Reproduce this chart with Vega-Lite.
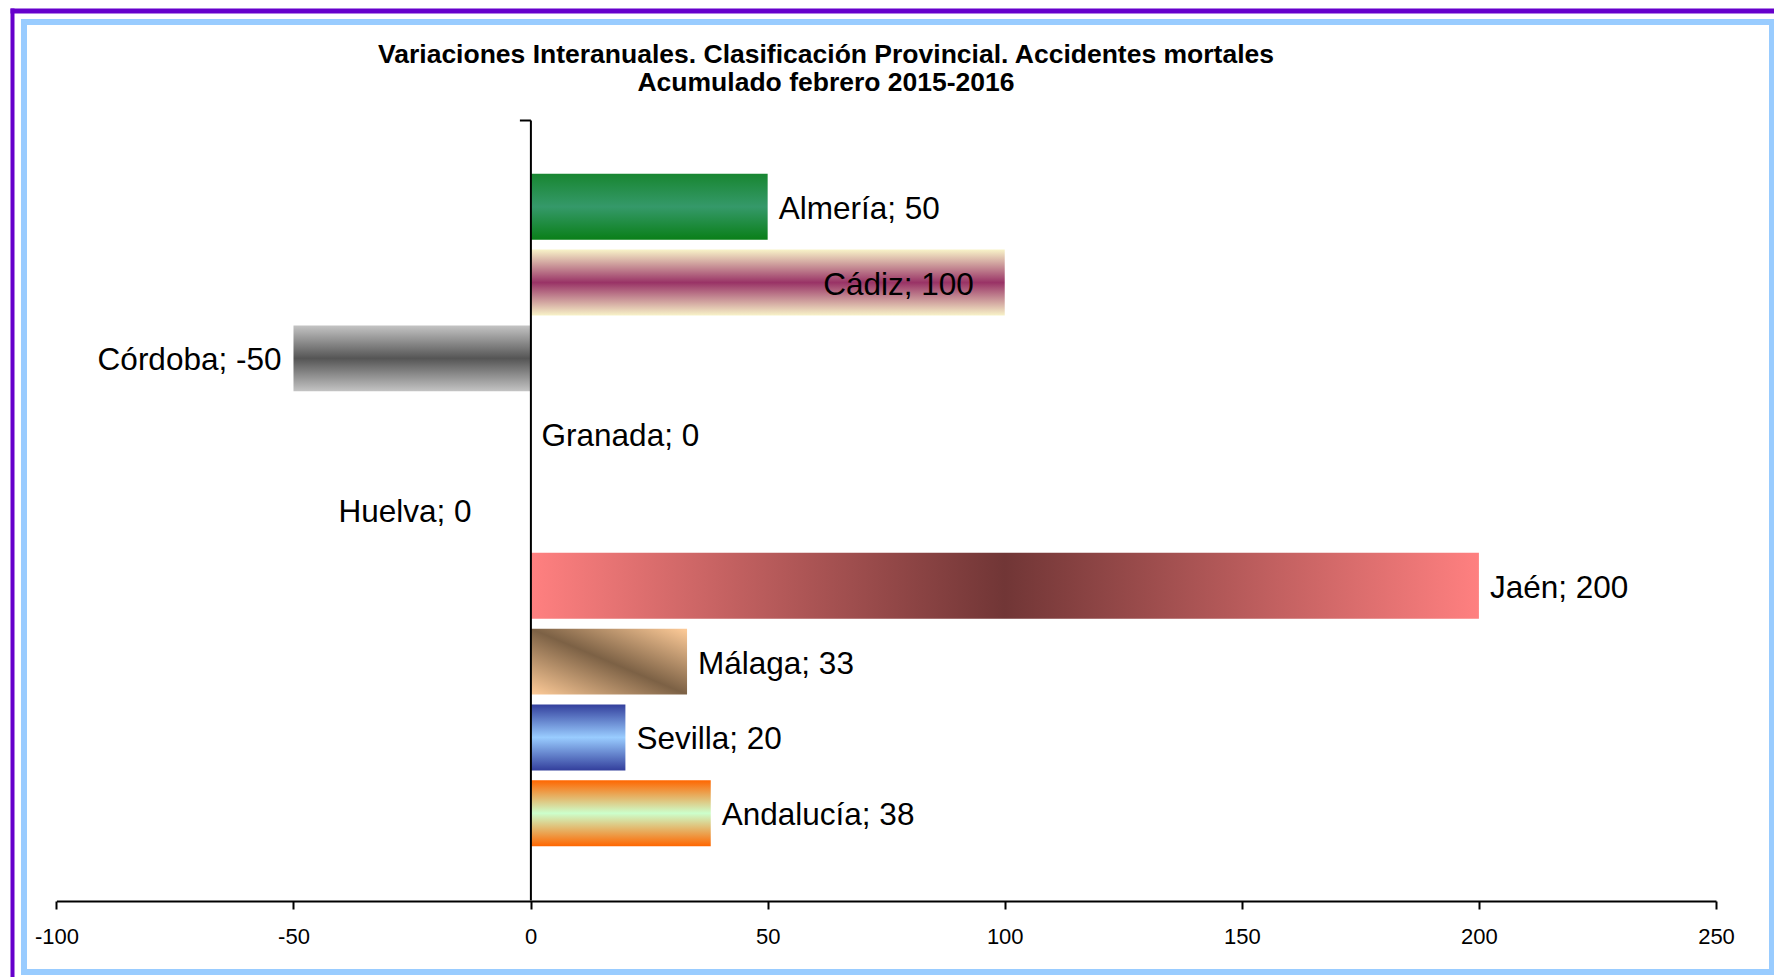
{
  "$schema": "https://vega.github.io/schema/vega-lite/v6.json",
  "width": 1748,
  "height": 950,
  "autosize": {"type": "none"},
  "padding": {"left": 24, "top": 22, "right": 2, "bottom": 5},
  "background": "white",
  "config": {
    "view": {"stroke": "#99CCFF", "strokeWidth": 6, "fill": "white"},
    "font": "Liberation Sans",
    "text": {"font": "Liberation Sans"}
  },
  "title": {
    "text": "Variaciones Interanuales. Clasificación Provincial. Accidentes mortales",
    "subtitle": "Acumulado febrero 2015-2016",
    "anchor": "middle",
    "frame": "group",
    "dx": -72,
    "offset": -86,
    "font": "Liberation Sans",
    "fontSize": 26.5,
    "fontWeight": "bold",
    "color": "black",
    "subtitleFont": "Liberation Sans",
    "subtitleFontSize": 26.5,
    "subtitleFontWeight": "bold",
    "subtitleColor": "black",
    "subtitlePadding": 2
  },
  "data": {
    "values": [
      {"provincia": "Almería", "valor": 50, "etiqueta": "Almería; 50"},
      {"provincia": "Cádiz", "valor": 100, "etiqueta": "Cádiz; 100"},
      {"provincia": "Córdoba", "valor": -50, "etiqueta": "Córdoba; -50"},
      {"provincia": "Granada", "valor": 0, "etiqueta": "Granada; 0"},
      {"provincia": "Huelva", "valor": 0, "etiqueta": "Huelva; 0"},
      {"provincia": "Jaén", "valor": 200, "etiqueta": "Jaén; 200"},
      {"provincia": "Málaga", "valor": 33, "etiqueta": "Málaga; 33"},
      {"provincia": "Sevilla", "valor": 20, "etiqueta": "Sevilla; 20"},
      {"provincia": "Andalucía", "valor": 38, "etiqueta": "Andalucía; 38"}
    ]
  },
  "layer": [
    {
      "encoding": {
        "y": {
          "field": "provincia",
          "type": "nominal",
          "scale": {
            "domain": ["Almería", "Cádiz", "Córdoba", "Granada", "Huelva", "Jaén", "Málaga", "Sevilla", "Andalucía"],
            "range": [98, 878],
            "paddingInner": 0.13,
            "paddingOuter": 0.71
          },
          "axis": {
            "orient": "left",
            "offset": -506.4,
            "domainColor": "black",
            "domainWidth": 2,
            "ticks": false,
            "labels": false,
            "title": null,
            "grid": false,
            "zindex": 2
          }
        },
        "x": {
          "field": "valor",
          "type": "quantitative",
          "scale": {"domain": [-100, 250], "range": [32.4, 1692], "nice": false, "zero": false},
          "axis": {
            "orient": "bottom",
            "offset": -71,
            "values": [-100, -50, 0, 50, 100, 150, 200, 250],
            "labelExpr": "'' + datum.value",
            "domainColor": "black",
            "domainWidth": 2,
            "tickColor": "black",
            "tickWidth": 2,
            "tickSize": 8,
            "labelFont": "Liberation Sans",
            "labelFontSize": 22,
            "labelColor": "black",
            "labelPadding": 17,
            "labelFlush": false,
            "labelOverlap": false,
            "title": null,
            "grid": false,
            "zindex": 2
          }
        }
      },
      "layer": [
        {
          "transform": [{"filter": {"field": "provincia", "equal": "Almería"}}],
          "mark": {"type": "bar", "color": {"gradient": "linear", "x1": 0, "y1": 0, "x2": 0, "y2": 1,
            "stops": [{"offset": 0, "color": "#188631"}, {"offset": 0.5, "color": "#35996A"}, {"offset": 1, "color": "#0A7F18"}]}},
          "encoding": {"x2": {"datum": 0}}
        },
        {
          "transform": [{"filter": {"field": "provincia", "equal": "Cádiz"}}],
          "mark": {"type": "bar", "color": {"gradient": "linear", "x1": 0, "y1": 0, "x2": 0, "y2": 1,
            "stops": [{"offset": 0, "color": "#F8F3C8"}, {"offset": 0.5, "color": "#993366"}, {"offset": 1, "color": "#F8F3C8"}]}},
          "encoding": {"x2": {"datum": 0}}
        },
        {
          "transform": [{"filter": {"field": "provincia", "equal": "Córdoba"}}],
          "mark": {"type": "bar", "color": {"gradient": "linear", "x1": 0, "y1": 0, "x2": 0, "y2": 1,
            "stops": [{"offset": 0, "color": "#C4C4C4"}, {"offset": 0.5, "color": "#555555"}, {"offset": 1, "color": "#C4C4C4"}]}},
          "encoding": {"x2": {"datum": 0}}
        },
        {
          "transform": [{"filter": {"field": "provincia", "equal": "Jaén"}}],
          "mark": {"type": "bar", "color": {"gradient": "linear", "x1": 0, "y1": 0, "x2": 1, "y2": 0,
            "stops": [{"offset": 0, "color": "#FF8080"}, {"offset": 0.5, "color": "#713636"}, {"offset": 1, "color": "#FF8080"}]}},
          "encoding": {"x2": {"datum": 0}}
        },
        {
          "transform": [{"filter": {"field": "provincia", "equal": "Málaga"}}],
          "mark": {"type": "bar", "color": {"gradient": "linear", "x1": 1, "y1": 0, "x2": 0, "y2": 1,
            "stops": [{"offset": 0, "color": "#FFCC99"}, {"offset": 0.5, "color": "#7C6145"}, {"offset": 1, "color": "#FFCC99"}]}},
          "encoding": {"x2": {"datum": 0}}
        },
        {
          "transform": [{"filter": {"field": "provincia", "equal": "Sevilla"}}],
          "mark": {"type": "bar", "color": {"gradient": "linear", "x1": 0, "y1": 0, "x2": 0, "y2": 1,
            "stops": [{"offset": 0, "color": "#333F9C"}, {"offset": 0.5, "color": "#99CCFF"}, {"offset": 1, "color": "#333F9C"}]}},
          "encoding": {"x2": {"datum": 0}}
        },
        {
          "transform": [{"filter": {"field": "provincia", "equal": "Andalucía"}}],
          "mark": {"type": "bar", "color": {"gradient": "linear", "x1": 0, "y1": 0, "x2": 0, "y2": 1,
            "stops": [{"offset": 0, "color": "#FF6600"}, {"offset": 0.5, "color": "#CCFFCC"}, {"offset": 1, "color": "#FF6600"}]}},
          "encoding": {"x2": {"datum": 0}}
        },
        {
          "transform": [{"filter": {"field": "provincia", "oneOf": ["Almería", "Granada", "Jaén", "Málaga", "Sevilla", "Andalucía"]}}],
          "mark": {"type": "text", "align": "left", "baseline": "middle", "dx": 11, "dy": 3, "fontSize": 31.5, "color": "black"},
          "encoding": {"text": {"field": "etiqueta"}}
        },
        {
          "transform": [{"filter": {"field": "provincia", "equal": "Córdoba"}}],
          "mark": {"type": "text", "align": "right", "baseline": "middle", "dx": -12, "dy": 3, "fontSize": 31.5, "color": "black"},
          "encoding": {"text": {"field": "etiqueta"}}
        },
        {
          "transform": [{"filter": {"field": "provincia", "equal": "Cádiz"}}],
          "mark": {"type": "text", "align": "right", "baseline": "middle", "dx": -31, "dy": 3, "fontSize": 31.5, "color": "black"},
          "encoding": {"text": {"field": "etiqueta"}}
        },
        {
          "transform": [{"filter": {"field": "provincia", "equal": "Huelva"}}],
          "mark": {"type": "text", "align": "right", "baseline": "middle", "dx": -59, "dy": 3, "fontSize": 31.5, "color": "black"},
          "encoding": {"text": {"field": "etiqueta"}}
        }
      ]
    },
    {
      "mark": {"type": "point", "opacity": 0},
      "encoding": {
        "x": {
          "field": "valor",
          "type": "quantitative",
          "scale": {"domain": [-100, 250], "range": [-14, 1750], "nice": false, "zero": false},
          "axis": {"orient": "top", "offset": 11.5, "domainColor": "#6600CC", "domainWidth": 5, "ticks": false, "labels": false, "title": null, "grid": false}
        },
        "y": {
          "field": "valor",
          "type": "quantitative",
          "scale": {"domain": [-100, 250], "range": [-14, 955], "nice": false, "zero": false},
          "axis": {"orient": "left", "offset": 12, "domainColor": "#6600CC", "domainWidth": 4, "ticks": false, "labels": false, "title": null, "grid": false}
        }
      }
    },
    {
      "mark": {"type": "point", "opacity": 0, "clip": true},
      "encoding": {
        "y": {
          "field": "valor",
          "type": "quantitative",
          "scale": {"domain": [-100, 250], "range": [98, 878], "nice": false, "zero": false},
          "axis": {"orient": "left", "offset": -506.4, "values": [-100], "domain": false, "ticks": true, "tickSize": 11, "tickWidth": 2, "tickColor": "black", "labels": false, "title": null, "grid": false, "zindex": 2}
        }
      }
    }
  ],
  "resolve": {"scale": {"x": "independent", "y": "independent"}}
}
